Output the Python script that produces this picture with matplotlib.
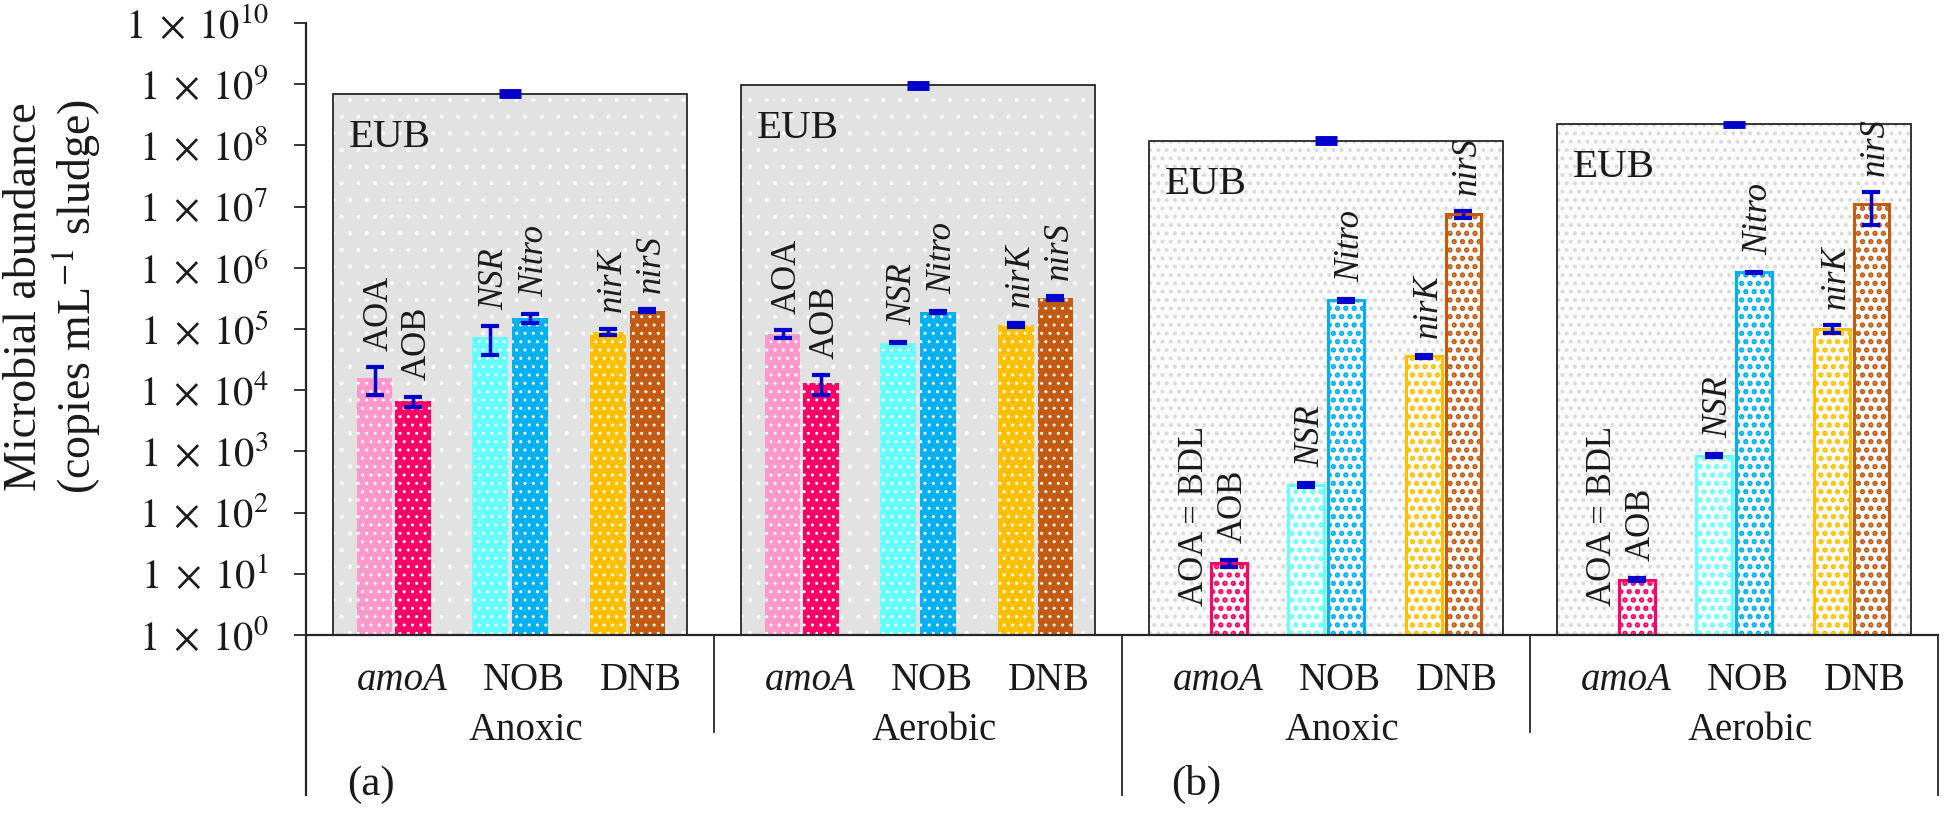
import numpy as np
import matplotlib
matplotlib.use("Agg")
import matplotlib.pyplot as plt
from matplotlib.ticker import FixedLocator, NullLocator, FixedFormatter

# ---------------- data ----------------
group_names = ["Anoxic", "Aerobic", "Anoxic", "Aerobic"]
panel_tags = ["(a)", "(b)"]
subcats = ["amoA", "NOB", "DNB"]
subcat_italic = [True, False, False]
genes = ["AOA", "AOB", "NSR", "Nitro", "nirK", "nirS"]
gene_italic = [False, False, True, True, True, True]
gene_colors = ["#FF99CC", "#FF0066", "#66FFFF", "#00B0F0", "#FFC000", "#C55A11"]

eub_mean = [7.0e8, 9.6e8, 1.2e8, 2.2e8]
eub_err = [6e7, 8e7, 1.0e7, 1.5e7]

gene_mean = [
    [1.6e4, 6.6e3, 7.4e4, 1.5e5, 9.1e4, 2.0e5],      # (a) Anoxic
    [8.3e4, 1.3e4, 6.0e4, 1.9e5, 1.15e5, 3.2e5],     # (a) Aerobic
    [np.nan, 15, 280, 2.95e5, 3.6e4, 7.5e6],         # (b) Anoxic
    [np.nan, 8, 850, 8.4e5, 1.0e5, 1.1e7],           # (b) Aerobic
]
gene_err = [
    [7.5e3, 1.2e3, 3.6e4, 2.6e4, 1.0e4, 1.0e4],
    [1.2e4, 4.5e3, 2.0e3, 1.0e4, 8.0e3, 2.0e4],
    [np.nan, 2, 20, 1.5e4, 2.0e3, 9.0e5],
    [np.nan, 0.5, 50, 3.0e4, 1.5e4, 6.0e6],
]
bdl_label = "AOA = BDL"
ytick_exps = list(range(0, 11))

# ---------------- layout / style ----------------
W, H = 1946, 815
plt.rcParams["font.family"] = ["Liberation Serif", "DejaVu Serif"]
plt.rcParams["mathtext.fontset"] = "stix"
TXT = "#1a1a1a"
LINE = "#262626"
ERR = "#0000CC"

bar_off = [0.168, 0.262, 0.452, 0.550, 0.740, 0.837]
bar_w = 0.088
box_w = 0.87
sub_off = [0.235, 0.535, 0.820]
grp_off = 0.54

fig = plt.figure(figsize=(W / 100, H / 100), dpi=100)
ax = fig.add_axes([306 / W, 1 - 635 / H, 1632 / W, 612 / H])
ax.set_yscale("log")
ax.set_xlim(0, 4)
ax.set_ylim(1, 1e10)
for s in ax.spines.values():
    s.set_visible(False)


def hatch_lw(patches, lw):
    for p in patches:
        if hasattr(p, "set_hatch_linewidth"):
            p.set_hatch_linewidth(lw)


for g in range(4):
    style_a = g < 2
    xc = g + 0.5
    # EUB background box
    with plt.rc_context({"hatch.linewidth": 0.4 if style_a else 1.6}):
        if style_a:
            b = ax.bar(xc, eub_mean[g] - 1, bottom=1, width=box_w, color="#E2E2E2",
                       edgecolor="white", linewidth=0, hatch=".", zorder=1)
            hatch_lw(b, 0.4)
        else:
            b = ax.bar(xc, eub_mean[g] - 1, bottom=1, width=box_w, color="#FBFBFB",
                       edgecolor="#DADADA", linewidth=0, hatch="..", zorder=1)
            hatch_lw(b, 1.6)
    ax.bar(xc, eub_mean[g] - 1, bottom=1, width=box_w, fill=False,
           edgecolor=LINE, linewidth=1.3, zorder=2)
    ax.errorbar(xc, eub_mean[g], yerr=eub_err[g], fmt="none", ecolor=ERR,
                elinewidth=2.5, capsize=8, capthick=3.5, zorder=6)
    box_left = xc - box_w / 2
    ax.annotate("EUB", xy=(box_left, eub_mean[g]), xytext=(12, -18),
                textcoords="offset points", ha="left", va="top",
                fontsize=29.5, color=TXT, zorder=7)

    # gene bars
    for k in range(6):
        xk = g + bar_off[k]
        m = gene_mean[g][k]
        e = gene_err[g][k]
        if np.isnan(m):
            ax.annotate(bdl_label, xy=(xk, 1), xytext=(3, 21),
                        textcoords="offset points", rotation=90,
                        ha="center", va="bottom", fontsize=25, color=TXT, zorder=7)
            continue
        if style_a:
            with plt.rc_context({"hatch.linewidth": 1.0}):
                b = ax.bar(xk, m - 1, bottom=1, width=bar_w, color=gene_colors[k],
                           edgecolor="white", linewidth=0, hatch="..", zorder=3)
                hatch_lw(b, 1.0)
        else:
            with plt.rc_context({"hatch.linewidth": 2.6}):
                b = ax.bar(xk, m - 1, bottom=1, width=bar_w, color="white",
                           edgecolor=gene_colors[k], linewidth=2.2, hatch="..", zorder=3)
                hatch_lw(b, 2.6)
        ax.errorbar(xk, m, yerr=e, fmt="none", ecolor=ERR, elinewidth=2.5,
                    capsize=6.5, capthick=3, zorder=6)
        ax.annotate(genes[k], xy=(xk, m + e), xytext=(3, 12),
                    textcoords="offset points", rotation=90, ha="center",
                    va="bottom", fontsize=25, color=TXT,
                    style="italic" if gene_italic[k] else "normal", zorder=7)

    # category labels
    tr = ax.get_xaxis_transform()
    for j in range(3):
        ax.text(g + sub_off[j], -0.0899, subcats[j], transform=tr, ha="center",
                va="baseline", fontsize=28, color=TXT,
                style="italic" if subcat_italic[j] else "normal")
    ax.text(g + grp_off, -0.1716, group_names[g], transform=tr, ha="center",
            va="baseline", fontsize=28, color=TXT)

tr = ax.get_xaxis_transform()
ax.text(0.10, -0.262, panel_tags[0], transform=tr, ha="left", va="baseline",
        fontsize=31, color=TXT)
ax.text(2.12, -0.262, panel_tags[1], transform=tr, ha="left", va="baseline",
        fontsize=31, color=TXT)

# axis lines and separators
ax.plot([0, 0], [1.0, -0.261], transform=tr, color=LINE, lw=1.6, clip_on=False, zorder=8)
ax.plot([0, 4], [0, 0], transform=tr, color=LINE, lw=1.6, clip_on=False, zorder=8)
for xs, yb in [(1, -0.159), (2, -0.261), (3, -0.159), (4, -0.261)]:
    ax.plot([xs, xs], [0, yb], transform=tr, color=LINE, lw=1.3, clip_on=False, zorder=8)

# y ticks
ax.yaxis.set_major_locator(FixedLocator([10.0 ** i for i in ytick_exps]))
ax.yaxis.set_minor_locator(NullLocator())
ax.yaxis.set_major_formatter(FixedFormatter([r"$1\;\times\;10^{%d}$" % i for i in ytick_exps]))
ax.tick_params(axis="y", which="major", direction="out", length=9, width=1.3,
               color=LINE, pad=18, labelsize=29, labelcolor=TXT)
ax.set_xticks([])

fig.text(53 / W, 1 - 297 / H, "Microbial abundance\n(copies mL$^{-1}$ sludge)",
         rotation=90, ha="center", va="center", fontsize=33, linespacing=1.1,
         color=TXT)

fig.savefig("out.png", dpi=100)
